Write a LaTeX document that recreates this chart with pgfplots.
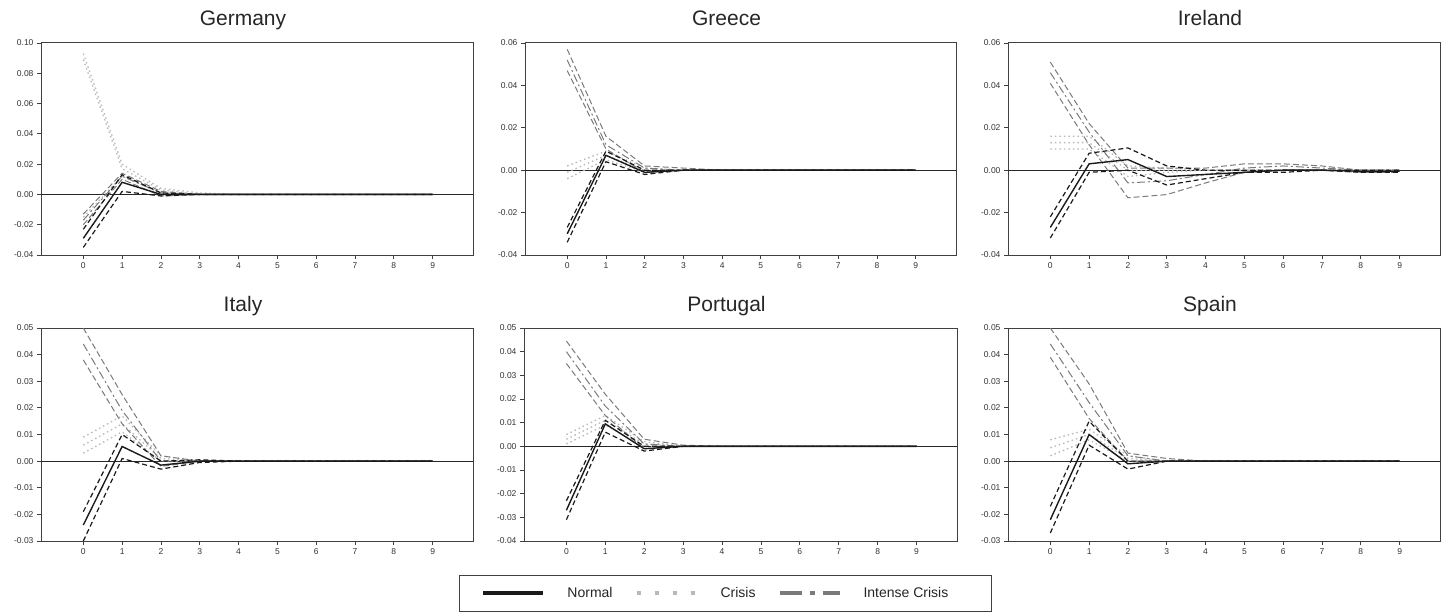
\documentclass[border=0pt]{standalone}
\usepackage{pgfplots}
\usepackage{pgfplotstable}
\pgfplotsset{compat=1.18}
\usepackage{fontspec}
\setmainfont{Liberation Sans}

\definecolor{crisisc}{HTML}{B8B8B8}
\definecolor{intensec}{HTML}{7A7A7A}
\definecolor{normalc}{HTML}{1A1A1A}

% h: horizon; n*: Normal (centre, lower, upper); c*: Crisis; i*: Intense Crisis
\pgfplotstableread{
h nc nl nu cc cl cu ic il iu
0 -0.029 -0.035 -0.023 0.089 -0.015 0.093 -0.017 -0.020 -0.013
1 0.008 0.002 0.013 0.017 0.012 0.020 0.012 0.010 0.014
2 0.000 -0.001 0.001 0.003 0.001 0.004 0.001 -0.001 0.002
3 0.000 0.000 0.000 0.000 0.000 0.001 0.000 0.000 0.000
4 0 0 0 0 0 0 0 0 0
5 0 0 0 0 0 0 0 0 0
6 0 0 0 0 0 0 0 0 0
7 0 0 0 0 0 0 0 0 0
8 0 0 0 0 0 0 0 0 0
9 0 0 0 0 0 0 0 0 0
}\germany

\pgfplotstableread{
h nc nl nu cc cl cu ic il iu
0 -0.030 -0.034 -0.027 -0.001 -0.004 0.002 0.052 0.047 0.057
1 0.007 0.004 0.009 0.007 0.005 0.009 0.012 0.010 0.016
2 -0.001 -0.002 0.000 0.000 -0.001 0.001 0.001 -0.001 0.002
3 0.000 0.000 0.000 0.000 0.000 0.000 0.000 0.000 0.001
4 0 0 0 0 0 0 0 0 0
5 0 0 0 0 0 0 0 0 0
6 0 0 0 0 0 0 0 0 0
7 0 0 0 0 0 0 0 0 0
8 0 0 0 0 0 0 0 0 0
9 0 0 0 0 0 0 0 0 0
}\greece

\pgfplotstableread{
h nc nl nu cc cl cu ic il iu
0 -0.027 -0.032 -0.022 0.013 0.010 0.016 0.046 0.041 0.051
1 0.003 -0.001 0.008 0.013 0.010 0.016 0.018 0.012 0.022
2 0.005 0.000 0.0105 0.000 -0.003 0.002 -0.006 -0.013 0.001
3 -0.003 -0.007 0.002 0.000 -0.001 0.001 -0.005 -0.0115 0.001
4 -0.002 -0.004 0.000 0.000 0.000 0.000 -0.002 -0.006 0.001
5 -0.001 -0.001 0.000 0.000 0.000 0.000 0.001 -0.001 0.003
6 0.000 -0.001 0.000 0.000 0.000 0.000 0.002 0.000 0.003
7 0.000 0.000 0.000 0.000 0.000 0.000 0.001 0.000 0.002
8 -0.0005 -0.001 0.000 0.000 0.000 0.000 0.000 -0.001 0.000
9 -0.0005 -0.001 0.000 0.000 0.000 0.000 0.000 -0.001 0.000
}\ireland

\pgfplotstableread{
h nc nl nu cc cl cu ic il iu
0 -0.024 -0.030 -0.019 0.006 0.003 0.009 0.044 0.038 0.050
1 0.0055 0.001 0.010 0.014 0.011 0.017 0.019 0.014 0.025
2 -0.0015 -0.003 0.000 0.001 0.000 0.002 0.000 -0.002 0.002
3 0.000 -0.0005 0.0005 0.000 0.000 0.000 0.000 0.000 0.000
4 0 0 0 0 0 0 0 0 0
5 0 0 0 0 0 0 0 0 0
6 0 0 0 0 0 0 0 0 0
7 0 0 0 0 0 0 0 0 0
8 0 0 0 0 0 0 0 0 0
9 0 0 0 0 0 0 0 0 0
}\italy

\pgfplotstableread{
h nc nl nu cc cl cu ic il iu
0 -0.027 -0.031 -0.023 0.003 0.001 0.005 0.040 0.035 0.0445
1 0.0095 0.006 0.011 0.011 0.009 0.013 0.017 0.013 0.022
2 -0.001 -0.002 0.000 0.001 0.000 0.002 0.001 -0.001 0.003
3 0.000 0.000 0.000 0.000 0.000 0.000 0.000 0.000 0.0005
4 0 0 0 0 0 0 0 0 0
5 0 0 0 0 0 0 0 0 0
6 0 0 0 0 0 0 0 0 0
7 0 0 0 0 0 0 0 0 0
8 0 0 0 0 0 0 0 0 0
9 0 0 0 0 0 0 0 0 0
}\portugal

\pgfplotstableread{
h nc nl nu cc cl cu ic il iu
0 -0.022 -0.027 -0.017 0.005 0.002 0.008 0.044 0.039 0.050
1 0.010 0.006 0.015 0.010 0.008 0.012 0.022 0.016 0.029
2 -0.001 -0.003 0.000 0.001 0.000 0.002 0.002 0.000 0.003
3 0.000 0.000 0.000 0.000 0.000 0.000 0.000 0.000 0.001
4 0 0 0 0 0 0 0 0 0
5 0 0 0 0 0 0 0 0 0
6 0 0 0 0 0 0 0 0 0
7 0 0 0 0 0 0 0 0 0
8 0 0 0 0 0 0 0 0 0
9 0 0 0 0 0 0 0 0 0
}\spain

\pgfplotsset{
  irfaxis/.style={
    scale only axis, width=432pt,
    xmin=-1.09, xmax=10.04,
    xtick={0,1,...,9},
    scaled y ticks=false,
    tick align=outside, xtick pos=bottom, ytick pos=left,
    major tick length=4pt,
    axis line style={draw=black!75, line width=1pt},
    tick style={draw=black!75, line width=0.8pt},
    tick label style={font=\fontsize{8.5}{9}\selectfont, text=black!80},
    title style={font=\fontsize{21}{24}\selectfont, text=black!85, at={(0.5,1)}, anchor=base, yshift=11pt, xshift=-14pt},
    /pgf/number format/assume math mode=true,
  },
  zerol/.style={black!85, line width=1.1pt, forget plot},
  nband/.style={normalc, line width=1.2pt, dash pattern=on 5pt off 3pt, forget plot},
  ncen/.style={normalc, line width=1.4pt, solid, forget plot},
  cline/.style={crisisc, line width=1.3pt, dash pattern=on 1.5pt off 3pt, forget plot},
  iband/.style={intensec, line width=1pt, dash pattern=on 6pt off 3pt, forget plot},
  icen/.style={intensec, line width=1pt, dash pattern=on 8pt off 3pt on 2pt off 3pt, forget plot},
}

\newcommand{\irf}[1]{%
  \addplot[zerol] coordinates {(-2,0) (11,0)};
  \addplot[cline] table[x=h,y=cl]{#1};
  \addplot[cline] table[x=h,y=cc]{#1};
  \addplot[cline] table[x=h,y=cu]{#1};
  \addplot[iband] table[x=h,y=il]{#1};
  \addplot[icen] table[x=h,y=ic]{#1};
  \addplot[iband] table[x=h,y=iu]{#1};
  \addplot[nband] table[x=h,y=nl]{#1};
  \addplot[nband] table[x=h,y=nu]{#1};
  \addplot[ncen] table[x=h,y=nc]{#1};
}

\begin{document}
\begin{tikzpicture}
\useasboundingbox (0pt,0pt) rectangle (1443pt,-615pt);

% ---------- Row 1 ----------
\begin{axis}[irfaxis, at={(41pt,-255pt)}, anchor=south west, height=212pt,
  title={Germany}, ymin=-0.04, ymax=0.10,
  ytick={-0.04,-0.02,0,0.02,0.04,0.06,0.08,0.10},
  yticklabels={-0.04,-0.02,0.00,0.02,0.04,0.06,0.08,0.10}]
\irf{\germany}
\end{axis}

\begin{axis}[irfaxis, at={(525pt,-255pt)}, anchor=south west, height=212pt, width=431pt,
  title={Greece}, ymin=-0.04, ymax=0.06,
  ytick={-0.04,-0.02,0,0.02,0.04,0.06},
  yticklabels={-0.04,-0.02,0.00,0.02,0.04,0.06}]
\irf{\greece}
\end{axis}

\begin{axis}[irfaxis, at={(1008pt,-255pt)}, anchor=south west, height=212pt,
  title={Ireland}, ymin=-0.04, ymax=0.06,
  ytick={-0.04,-0.02,0,0.02,0.04,0.06},
  yticklabels={-0.04,-0.02,0.00,0.02,0.04,0.06}]
\irf{\ireland}
\end{axis}

% ---------- Row 2 ----------
\begin{axis}[irfaxis, at={(41pt,-541pt)}, anchor=south west, height=213pt,
  title={Italy}, ymin=-0.03, ymax=0.05,
  ytick={-0.03,-0.02,-0.01,0,0.01,0.02,0.03,0.04,0.05},
  yticklabels={-0.03,-0.02,-0.01,0.00,0.01,0.02,0.03,0.04,0.05}]
\irf{\italy}
\end{axis}

\begin{axis}[irfaxis, at={(524pt,-541pt)}, anchor=south west, height=213pt, width=433pt,
  title={Portugal}, ymin=-0.04, ymax=0.05,
  ytick={-0.04,-0.03,-0.02,-0.01,0,0.01,0.02,0.03,0.04,0.05},
  yticklabels={-0.04,-0.03,-0.02,-0.01,0.00,0.01,0.02,0.03,0.04,0.05},
  legend columns=3,
  legend image code/.code={\draw[#1] (0pt,0pt) -- (60pt,0pt);},
  legend style={at={(-0.150,-0.160)}, anchor=north west,
    draw=black!75, line width=0.8pt, fill=white,
    font=\fontsize{14}{16}\selectfont, text=black!85,
    inner xsep=22pt, inner ysep=10pt,
    /tikz/every odd column/.append style={column sep=20pt},
    /tikz/every even column/.append style={column sep=20pt}}]
\irf{\portugal}
\addlegendimage{normalc, line width=4pt, solid}
\addlegendentry{Normal}
\addlegendimage{crisisc, line width=4pt, dash pattern=on 4pt off 14pt}
\addlegendentry{Crisis}
\addlegendimage{intensec, line width=4pt, dash pattern=on 22pt off 8pt on 5pt off 8pt}
\addlegendentry{\makebox[104pt][l]{Intense Crisis}}
\end{axis}

\begin{axis}[irfaxis, at={(1008pt,-541pt)}, anchor=south west, height=213pt,
  title={Spain}, ymin=-0.03, ymax=0.05,
  ytick={-0.03,-0.02,-0.01,0,0.01,0.02,0.03,0.04,0.05},
  yticklabels={-0.03,-0.02,-0.01,0.00,0.01,0.02,0.03,0.04,0.05}]
\irf{\spain}
\end{axis}
\end{tikzpicture}
\end{document}
